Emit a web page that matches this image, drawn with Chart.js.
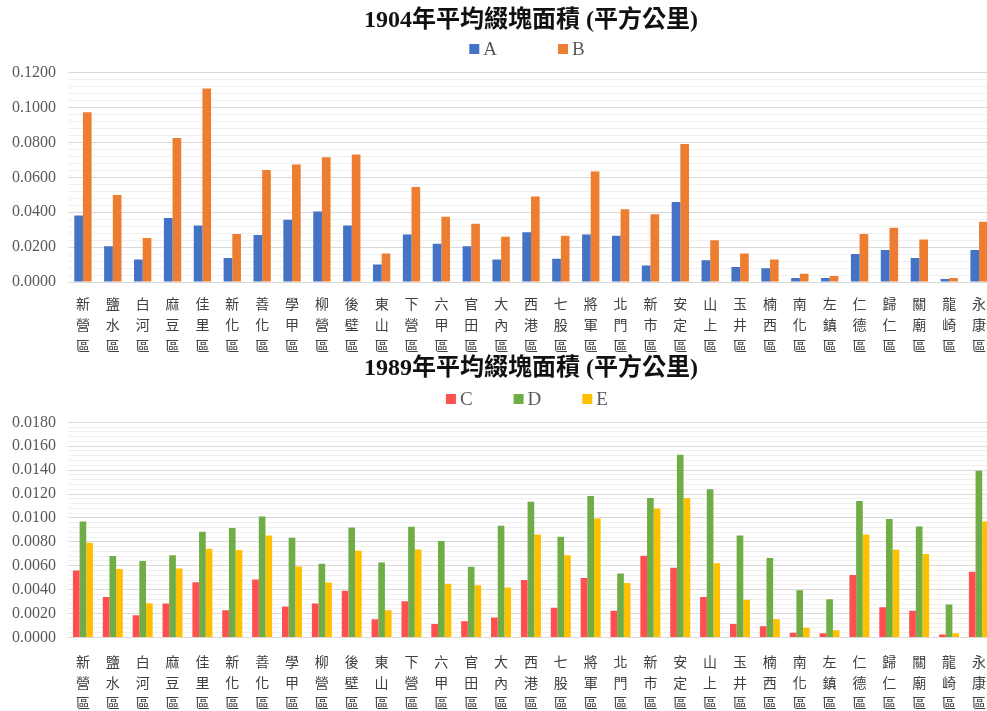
<!DOCTYPE html>
<html>
<head>
<meta charset="utf-8">
<script src="https://cdn.jsdelivr.net/npm/chart.js@4.4.1/dist/chart.umd.min.js"></script>
<style>
  html, body { margin: 0; padding: 0; background: #fff; overflow: hidden; width: 987px; height: 711px; }
  .wrap { position: absolute; left: 0; width: 1000px; }
  #w1904 { top: 0; height: 367px; }
  #w1989 { top: 354px; height: 373px; }
  canvas { display: block; }
</style>
</head>
<body>
<div class="wrap" id="w1904"><canvas id="c1904" width="1000" height="367"></canvas></div>
<div class="wrap" id="w1989"><canvas id="c1989" width="1000" height="373"></canvas></div>
<script>
// 台南各區平均綴塊面積（平方公里）
const districts = ['新營區','鹽水區','白河區','麻豆區','佳里區','新化區','善化區','學甲區','柳營區','後壁區',
  '東山區','下營區','六甲區','官田區','大內區','西港區','七股區','將軍區','北門區','新市區',
  '安定區','山上區','玉井區','楠西區','南化區','左鎮區','仁德區','歸仁區','關廟區','龍崎區','永康區'];

const title1904 = '1904年平均綴塊面積 (平方公里)';
const title1989 = '1989年平均綴塊面積 (平方公里)';

const seriesA = [0.0382,0.0205,0.0129,0.0367,0.0324,0.0138,0.0269,0.0357,0.0405,0.0324,
  0.0100,0.0273,0.0219,0.0205,0.0129,0.0286,0.0134,0.0273,0.0265,0.0094,
  0.0459,0.0125,0.0086,0.0079,0.0023,0.0023,0.0161,0.0184,0.0138,0.0017,0.0184];
const seriesB = [0.0973,0.0499,0.0252,0.0826,0.1110,0.0276,0.0643,0.0674,0.0716,0.0732,
  0.0163,0.0545,0.0374,0.0334,0.0259,0.0490,0.0265,0.0634,0.0417,0.0388,
  0.0791,0.0240,0.0163,0.0129,0.0048,0.0035,0.0276,0.0311,0.0244,0.0023,0.0346];

const seriesC = [0.00561,0.00338,0.00187,0.00285,0.00463,0.00229,0.00486,0.00260,0.00285,0.00391,
  0.00153,0.00304,0.00112,0.00137,0.00167,0.00480,0.00248,0.00497,0.00223,0.00684,
  0.00583,0.00338,0.00112,0.00095,0.00039,0.00036,0.00522,0.00254,0.00223,0.00025,0.00550];
const seriesD = [0.00971,0.00681,0.00639,0.00689,0.00885,0.00915,0.01013,0.00834,0.00617,0.00921,
  0.00628,0.00927,0.00807,0.00592,0.00935,0.01136,0.00843,0.01183,0.00536,0.01167,
  0.01529,0.01239,0.00854,0.00664,0.00396,0.00321,0.01141,0.00991,0.00929,0.00276,0.01395];
const seriesE = [0.00793,0.00572,0.00287,0.00578,0.00742,0.00731,0.00854,0.00594,0.00460,0.00726,
  0.00229,0.00737,0.00449,0.00438,0.00419,0.00862,0.00689,0.00996,0.00455,0.01080,
  0.01167,0.00622,0.00315,0.00153,0.00081,0.00061,0.00862,0.00734,0.00698,0.00036,0.00971];

// y 軸：上限、細格線間距、每幾格一條主格線
const axis1904 = { max: 0.12, minorStep: 0.004, majorEvery: 5 };
const axis1989 = { max: 0.018, minorStep: 0.0004, majorEvery: 5 };

// 圖例：置中於繪圖區上方的一列色塊與文字
const keyRow = {
  id: 'keyRow',
  afterDraw(chart, args, opts) {
    const { ctx, chartArea } = chart;
    const items = chart.data.datasets;
    ctx.save();
    ctx.font = opts.font;
    ctx.textBaseline = 'middle';
    ctx.textAlign = 'left';
    const widths = items.map(ds => opts.boxSize + opts.textGap + ctx.measureText(ds.label).width);
    const total = widths.reduce((s, w) => s + w, 0) + opts.itemGap * (items.length - 1);
    let x = (chartArea.left + chartArea.right) / 2 + opts.shift - total / 2;
    items.forEach((ds, i) => {
      ctx.fillStyle = ds.backgroundColor;
      ctx.fillRect(x, opts.y - opts.boxSize / 2, opts.boxSize, opts.boxSize);
      ctx.fillStyle = opts.color;
      ctx.fillText(ds.label, x + opts.boxSize + opts.textGap, opts.y + 1);
      x += widths[i] + opts.itemGap;
    });
    ctx.restore();
  }
};

function makeChart(id, titleText, datasets, axis, layoutOpts) {
  return new Chart(document.getElementById(id), {
    type: 'bar',
    data: {
      labels: districts.map(d => Array.from(d)),
      datasets: datasets.map(ds => ({
        label: ds.label,
        data: ds.data,
        backgroundColor: ds.color,
        borderWidth: 0,
        barPercentage: 1,
        categoryPercentage: layoutOpts.groupWidth
      }))
    },
    plugins: [keyRow],
    options: {
      responsive: false,
      animation: false,
      layout: { padding: { left: 0, right: 6, top: 0, bottom: 0 } },
      plugins: {
        legend: { display: false },
        tooltip: { enabled: false },
        title: {
          display: true,
          text: titleText,
          fullSize: false,
          color: '#111',
          font: { family: "'Liberation Serif', 'Noto Sans CJK TC'", size: 24, weight: 'bold', lineHeight: 1.2 },
          padding: { top: layoutOpts.titleTop, bottom: layoutOpts.titleBottom }
        },
        keyRow: {
          y: layoutOpts.keyY,
          shift: -4,
          boxSize: 10,
          textGap: 4,
          itemGap: layoutOpts.keyGap,
          color: '#595959',
          font: "19px 'Liberation Serif'"
        }
      },
      scales: {
        x: {
          grid: { display: false, drawTicks: false },
          border: { display: false },
          ticks: {
            autoSkip: false,
            maxRotation: 0,
            minRotation: 0,
            padding: layoutOpts.labelPad,
            color: '#404040',
            font: { family: "'Noto Sans CJK TC'", size: 14, lineHeight: layoutOpts.labelLine }
          }
        },
        y: {
          min: 0,
          max: axis.max,
          border: { display: false },
          grid: {
            drawTicks: false,
            color: c => (c.index % axis.majorEvery === 0 ? '#d9d9d9' : '#f0f0f0'),
            lineWidth: 1
          },
          ticks: {
            stepSize: axis.minorStep,
            autoSkip: false,
            padding: 12,
            color: '#595959',
            font: { family: "'Liberation Serif'", size: 16 },
            callback: (v, i) => (i % axis.majorEvery === 0 ? Number(v).toFixed(4) : '')
          }
        }
      }
    }
  });
}

makeChart('c1904', title1904, [
  { label: 'A', data: seriesA, color: '#4472C4' },
  { label: 'B', data: seriesB, color: '#ED7D31' }
], axis1904, { groupWidth: 0.58, titleTop: 6, titleBottom: 38, keyY: 49, keyGap: 61, labelPad: 11, labelLine: 1.5 });

makeChart('c1989', title1989, [
  { label: 'C', data: seriesC, color: '#FF5050' },
  { label: 'D', data: seriesD, color: '#70AD47' },
  { label: 'E', data: seriesE, color: '#FFC000' }
], axis1989, { groupWidth: 0.67, titleTop: 0, titleBottom: 39.5, keyY: 45, keyGap: 41, labelPad: 14, labelLine: 1.464 });
</script>
</body>
</html>
